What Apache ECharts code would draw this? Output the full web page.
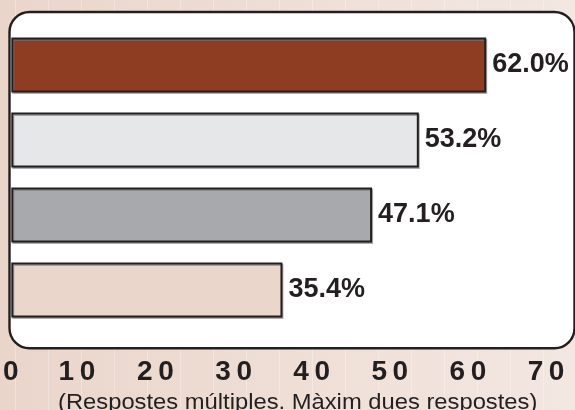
<!DOCTYPE html>
<html>
<head>
<meta charset="utf-8">
<script src="https://cdn.jsdelivr.net/npm/echarts@6/dist/echarts.min.js"></script>
<style>
html,body{margin:0;padding:0;}
body{
  width:575px;height:410px;overflow:hidden;
  background:
    repeating-linear-gradient(90deg, rgba(255,255,255,0) 0px, rgba(255,255,255,0) 15px, rgba(255,255,255,0.28) 15px, rgba(255,255,255,0.28) 16px, rgba(255,255,255,0) 16px, rgba(255,255,255,0) 33px),
    linear-gradient(90deg, #ead5cb 0%, #efdfd7 55%, #f3e7e2 100%);
}
#chart{width:575px;height:410px;}
</style>
</head>
<body>
<div id="chart"></div>
<script>
const categories = ['A', 'B', 'C', 'D'];
const values = [62.0, 53.2, 47.1, 35.4];
const barColors = ['#8e3c22', '#e6e7e8', '#a7a9ac', '#ebd6cb'];
const tickLabels = ['0', '10', '20', '30', '40', '50', '60', '70'];
const note = '(Respostes múltiples. Màxim dues respostes)';

const chart = echarts.init(document.getElementById('chart'));
const dark = '#231f20';
const labelFont = '"Liberation Sans", Arial, sans-serif';

// small per-label nudges (rich padding) to mimic the reference's hand placement
const nudge = [1, 22, 18, 15, 12, 9, 6, 3];
const rich = {};
nudge.forEach((n, i) => {
  rich['r' + i] = {
    color: dark, fontWeight: 'bold', fontSize: 28, fontFamily: labelFont,
    padding: [0, n, 0, 0]
  };
});

chart.setOption({
  backgroundColor: 'transparent',
  animation: false,
  graphic: [
    {
      type: 'rect',
      z: -10,
      shape: { x: 9.5, y: 12, width: 565, height: 336.3, r: 20 },
      style: { fill: '#ffffff', stroke: dark, lineWidth: 2.4 }
    },
    {
      type: 'text',
      x: 58,
      y: 392,
      scaleX: 1.08,
      originX: 0,
      style: {
        text: note,
        font: '22px "Liberation Sans", Arial, sans-serif',
        fill: dark
      }
    }
  ],
  grid: { left: 9.5, top: 27.5, width: 538, height: 300, containLabel: false },
  xAxis: {
    type: 'value',
    min: 0,
    max: 70,
    interval: 10,
    axisLine: { show: false },
    axisTick: { show: false },
    splitLine: { show: false },
    axisLabel: {
      margin: 31,
      color: dark,
      fontWeight: 'bold',
      fontSize: 28,
      fontFamily: labelFont,
      rich: rich,
      formatter: function (v) {
        const i = Math.round(v / 10);
        const s = (tickLabels[i] || String(v)).split('').join('\u2009');
        return '{r' + i + '|' + s + '}';
      }
    }
  },
  yAxis: {
    type: 'category',
    data: categories,
    inverse: true,
    show: false
  },
  series: [{
    type: 'bar',
    barWidth: 55,
    data: values.map((v, i) => ({
      value: v,
      itemStyle: { color: barColors[i] }
    })),
    itemStyle: {
      borderColor: dark,
      borderWidth: 2,
      shadowColor: 'rgba(120,120,120,0.6)',
      shadowOffsetX: 1,
      shadowOffsetY: 1.5,
      shadowBlur: 0
    },
    label: {
      show: true,
      position: 'right',
      distance: 6,
      color: dark,
      fontWeight: 'bold',
      fontSize: 27,
      fontFamily: labelFont,
      formatter: p => p.value.toFixed(1) + '%'
    }
  }]
});
</script>
</body>
</html>
